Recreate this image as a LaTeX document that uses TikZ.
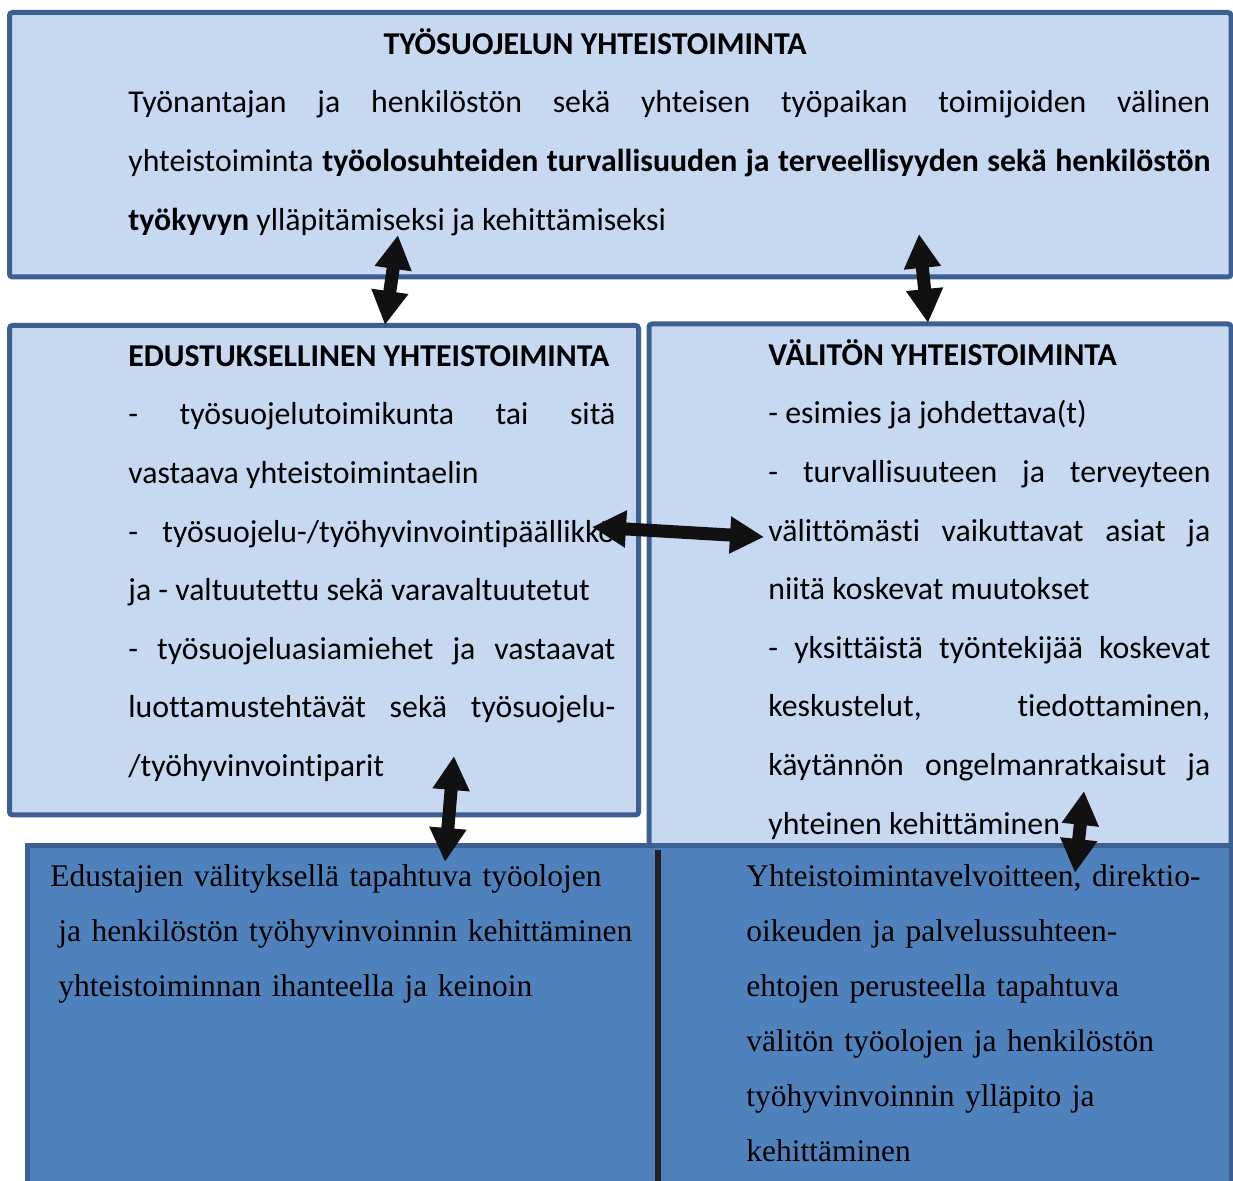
\documentclass[tikz,border=0pt]{standalone}
\usepackage{fontspec}
\setmainfont{Carlito}[Ligatures=NoCommon]
\newfontfamily\timesfont{Liberation Serif}
\usetikzlibrary{arrows.meta}
\definecolor{frame}{RGB}{60,96,145}
\definecolor{pale}{RGB}{198,217,241}
\definecolor{mid}{RGB}{79,129,189}
\definecolor{ink}{RGB}{17,17,17}
\definecolor{bar}{RGB}{34,34,34}
\newcommand{\bodyfont}{\fontsize{15.9pt}{29.3pt}\selectfont
  \tolerance=10000\hyphenpenalty=10000\exhyphenpenalty=10000}
\newcommand{\lowfont}{\timesfont\fontsize{15.75pt}{27.5pt}\selectfont
  \hyphenpenalty=10000\exhyphenpenalty=10000}
\tikzset{
  box/.style={draw=frame,line width=2.5pt,fill=pale,rounded corners=1.5pt,
    anchor=north west,inner sep=0pt,outer sep=0pt},
  lowbox/.style={box,fill=mid,rounded corners=0pt},
  head/.style={inner sep=0pt,font=\fontsize{15.9pt}{19pt}\selectfont\bfseries},
  body/.style={inner sep=0pt,anchor=base west,align=justify,font=\bodyfont},
  low/.style={inner sep=0pt,anchor=base west,align=left,font=\lowfont},
  dbl/.style={{Triangle[length=17pt,width=17.5pt]}-{Triangle[length=17pt,width=17.5pt]},
    line width=6.5pt,ink},
}

\begin{document}
\begin{tikzpicture}[x=0.5pt,y=-0.5pt]
\useasboundingbox (0,0) rectangle (1233,1181);
\clip (0,0) rectangle (1233,1181);
% upper boxes
\node[box,minimum width=610.75pt,minimum height=132.25pt] (yt) at (9.5,12.5) {};
\node[box,minimum width=314.5pt,minimum height=244.75pt] (edu) at (9.5,325.5) {};
\node[box,minimum width=291pt,minimum height=262pt] (val) at (649,324) {};
\node[head,anchor=base] (ythead) at (595,55) {TYÖSUOJELUN YHTEISTOIMINTA};
\node[body,text width=541pt] (ytbody) at (128,113)
  {Työnantajan ja henkilöstön sekä yhteisen työpaikan toimijoiden välinen\linebreak
   yhteistoiminta \textbf{työolosuhteiden turvallisuuden ja terveellisyyden sekä henkilöstön}\linebreak
   \textbf{työkyvyn} ylläpitämiseksi ja kehittämiseksi};
\node[head,anchor=base west] (eduhead) at (128,367) {EDUSTUKSELLINEN YHTEISTOIMINTA};
\node[body,text width=243.5pt] (edubody) at (128,425)
  {- työsuojelutoimikunta tai sitä\linebreak vastaava yhteistoimintaelin\\
   - työsuojelu-/työhyvinvointipäällikkö\linebreak ja - valtuutettu sekä varavaltuutetut\\
   - työsuojeluasiamiehet ja vastaavat\linebreak luottamustehtävät sekä työsuojelu-\linebreak
   /työhyvinvointiparit};
\node[head,anchor=base west] (valhead) at (768,366) {VÄLITÖN YHTEISTOIMINTA};
\node[body,text width=221pt] (valbody) at (768,424)
  {- esimies ja johdettava(t)\\
   - turvallisuuteen ja terveyteen\linebreak välittömästi vaikuttavat asiat ja\linebreak
   niitä koskevat muutokset\\
   - yksittäistä työntekijää koskevat\linebreak keskustelut, tiedottaminen,\linebreak
   käytännön ongelmanratkaisut ja\linebreak yhteinen kehittäminen};
% lower box
\node[lowbox,minimum width=601.75pt,minimum height=180pt] (low) at (27.5,846) {};
\coordinate (bartop) at (658,850);
\coordinate (barbot) at (658,1190);
\draw[bar,line width=3pt] (bartop) -- (barbot);
\node[low,text width=300pt] (lowleft) at (50,887)
  {Edustajien välityksellä tapahtuva työolojen\\
   \hspace*{.25em}ja henkilöstön työhyvinvoinnin kehittäminen\\
   \hspace*{.25em}yhteistoiminnan ihanteella ja keinoin};
\node[low,text width=243pt] (lowright) at (746,887)
  {Yhteistoimintavelvoitteen, direktio-\\
   oikeuden ja palvelussuhteen-\\
   ehtojen perusteella tapahtuva\\
   välitön työolojen ja henkilöstön\\
   työhyvinvoinnin ylläpito ja\\
   kehittäminen};
% arrows
\coordinate (a1t) at (398,235); \coordinate (a1b) at (385,325);
\coordinate (a2t) at (919,234); \coordinate (a2b) at (928,323);
\coordinate (a3l) at (592,527); \coordinate (a3r) at (764,537);
\coordinate (a4t) at (454,756); \coordinate (a4b) at (445,862);
\coordinate (a5t) at (1084,791); \coordinate (a5b) at (1075,873);
\draw[dbl] (a1t) -- (a1b);
\draw[dbl] (a2t) -- (a2b);
\draw[dbl] (a3l) -- (a3r);
\draw[dbl] (a4t) -- (a4b);
\draw[dbl] (a5t) -- (a5b);
\end{tikzpicture}
\end{document}
